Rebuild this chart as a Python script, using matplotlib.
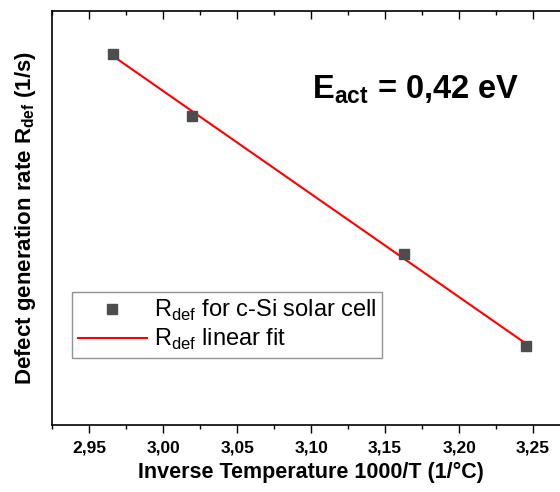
import numpy as np
import matplotlib
matplotlib.use("Agg")
import matplotlib.pyplot as plt
from matplotlib.ticker import MultipleLocator, FuncFormatter

plt.rcParams["font.family"] = ["Liberation Sans", "DejaVu Sans"]
plt.rcParams["mathtext.fontset"] = "custom"
plt.rcParams["mathtext.rm"] = "Liberation Sans"
plt.rcParams["mathtext.bf"] = "Liberation Sans:bold"

# data (y axis has no scale -> relative units)
inv_temp = [2.966, 3.0196, 3.163, 3.245]
rate_def = [0.896, 0.747, 0.414, 0.190]

fig = plt.figure(figsize=(5.6, 4.92), dpi=100)
ax = fig.add_axes([0.093, 0.136, 0.925, 0.842])

ax.plot(inv_temp, rate_def, "s", color="#4d4d4d", ms=7.5, zorder=3,
        label=r"R$_{\mathrm{def}}$ for c-Si solar cell")

k, b = np.polyfit(inv_temp, rate_def, 1)
xfit = np.array([inv_temp[0], inv_temp[-1]])
ax.plot(xfit, k * xfit + b, color="red", lw=1.5, zorder=2,
        label=r"R$_{\mathrm{def}}$ linear fit")

ax.set_xlim(2.925, 3.275)
ax.set_ylim(0, 1)

ax.xaxis.set_major_locator(MultipleLocator(0.05))
ax.xaxis.set_minor_locator(MultipleLocator(0.025))
ax.xaxis.set_major_formatter(FuncFormatter(lambda v, p: f"{v:.2f}".replace(".", ",")))
ax.tick_params(axis="x", which="major", direction="out", length=6, width=1,
               labelsize=12.5, pad=5)
ax.tick_params(axis="x", which="minor", direction="out", length=3, width=1)
ax.set_yticks([])
for lab in ax.get_xticklabels():
    lab.set_fontweight("bold")

# top ticks point inward
sec = ax.secondary_xaxis("top")
sec.xaxis.set_major_locator(MultipleLocator(0.05))
sec.xaxis.set_minor_locator(MultipleLocator(0.025))
sec.tick_params(which="major", direction="in", length=6, width=1, labeltop=False)
sec.tick_params(which="minor", direction="in", length=3, width=1)
sec.spines["top"].set_visible(False)

for s in ax.spines.values():
    s.set_linewidth(1.2)

ax.set_xlabel("Inverse Temperature 1000/T (1/°C)", fontsize=15.5, fontweight="bold", labelpad=5)
ax.set_ylabel(r"Defect generation rate R$_{\mathbf{def}}$ (1/s)", fontsize=16,
              fontweight="bold", labelpad=10)

ax.text(0.502, 0.81, r"E$_{\mathbf{act}}$ = 0,42 eV", transform=ax.transAxes,
        fontsize=23.5, fontweight="bold", va="center", ha="left")

leg = ax.legend(loc="lower left", bbox_to_anchor=(0.039, 0.162), fontsize=17,
                frameon=True, fancybox=False, edgecolor="#777777",
                handlelength=2.9, handletextpad=0.3, borderpad=0.25,
                borderaxespad=0, labelspacing=0.15)
leg.get_frame().set_linewidth(1.0)
leg._legend_box.align = "left"

fig.savefig("out.png", dpi=100)
